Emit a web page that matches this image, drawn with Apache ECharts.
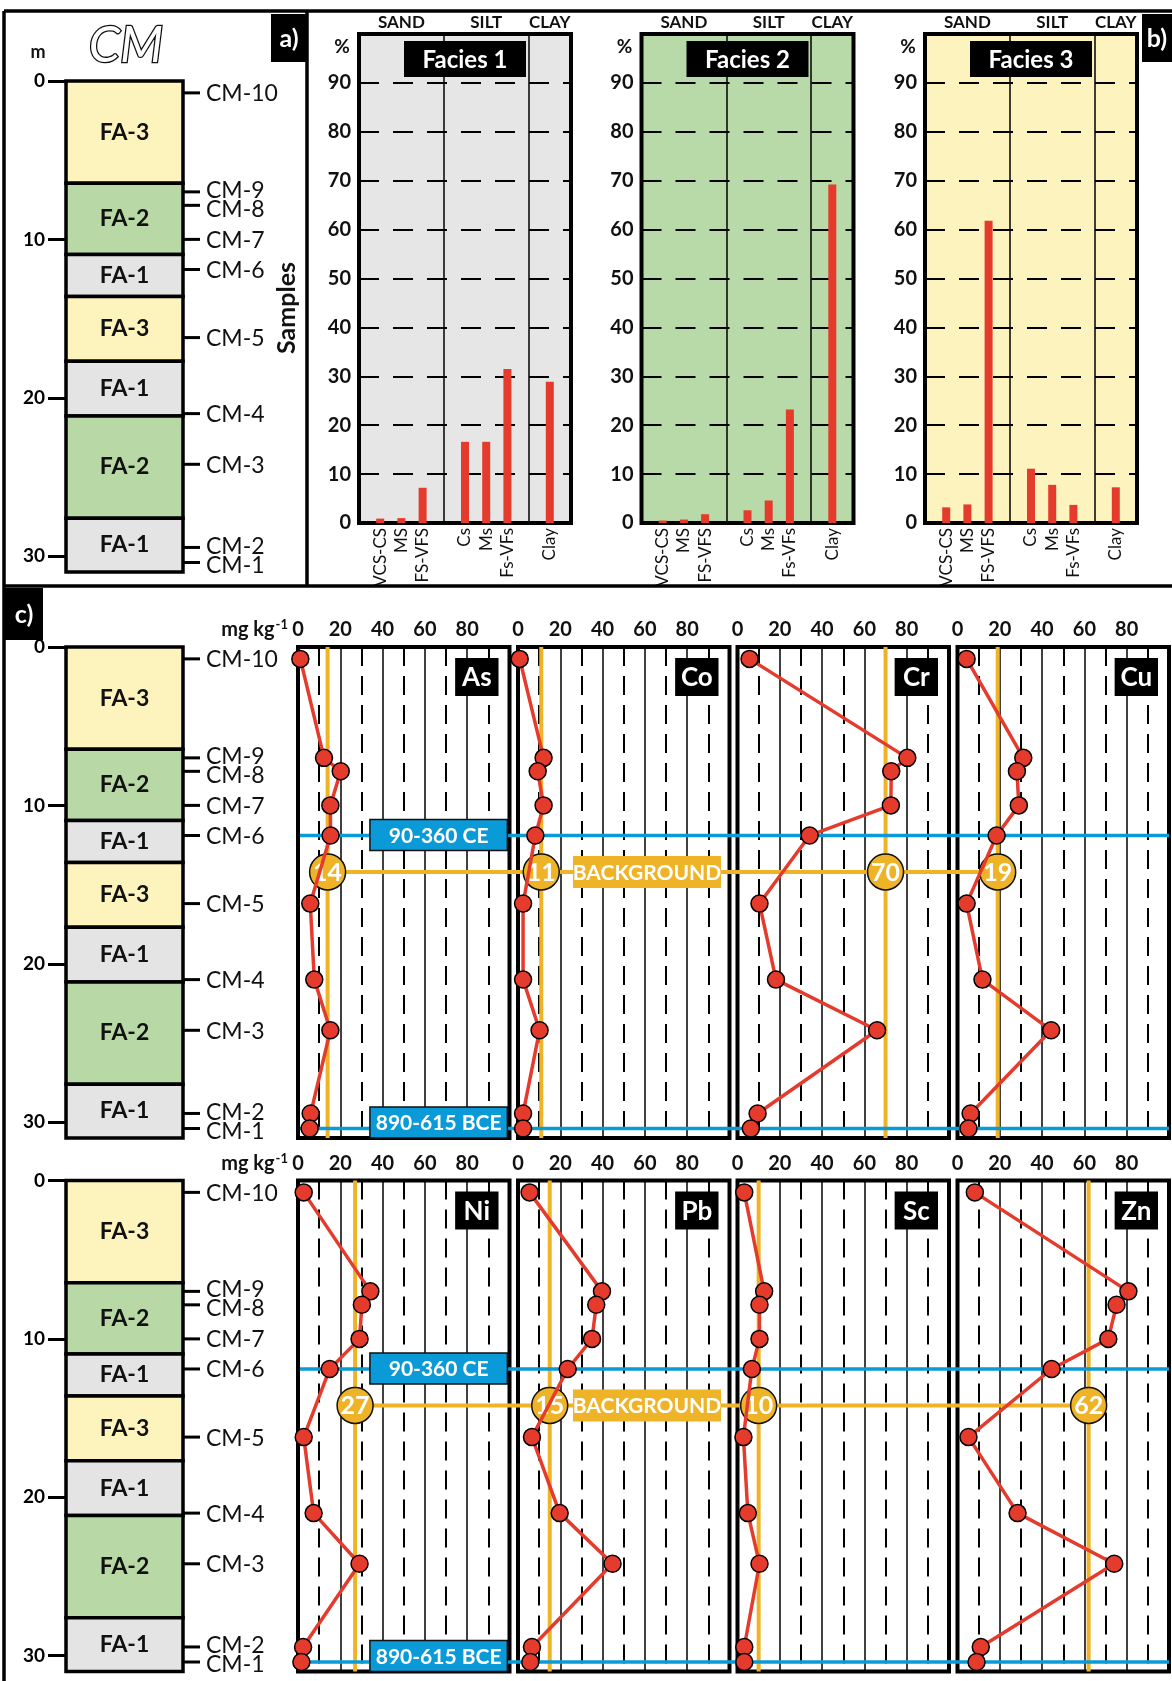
<!DOCTYPE html>
<html><head><meta charset="utf-8">
<script src="https://cdn.jsdelivr.net/npm/echarts@6/dist/echarts.min.js"></script>
<style>html,body{margin:0;padding:0;background:#fff}#c{width:1172px;height:1681px}</style>
</head><body><div id="c"></div>
<script>
// ---------------- DATA ----------------
// stratigraphic column (depth in m)
const layerTop    = [0, 6.45, 10.95, 13.6, 17.7, 21.15, 27.6];
const layerBottom = [6.45, 10.95, 13.6, 17.7, 21.15, 27.6, 31];
const layerFacies = ['FA-3','FA-2','FA-1','FA-3','FA-1','FA-2','FA-1'];
const sampleNames = ['CM-10','CM-9','CM-8','CM-7','CM-6','CM-5','CM-4','CM-3','CM-2','CM-1'];
const sampleDepth = [0.75, 7.0, 7.85, 10.0, 11.9, 16.2, 21.0, 24.2, 29.45, 30.4];
const depthTicks  = [0, 10, 20, 30];

// grain size (%)
const grainClasses = ['VCS-CS','MS','FS-VFS','Cs','Ms','Fs-VFs','Clay'];
const grainGroupOf = ['SAND','SAND','SAND','SILT','SILT','SILT','CLAY'];
const grainGroups  = ['SAND','SILT','CLAY'];
const faciesNames  = ['Facies 1','Facies 2','Facies 3'];
const facies1 = [0.9, 1.0, 7.2, 16.6, 16.6, 31.5, 28.9];
const facies2 = [0.5, 0.7, 1.8, 2.6, 4.6, 23.2, 69.2];
const facies3 = [3.2, 3.8, 61.8, 11.1, 7.8, 3.7, 7.3];

// geochemistry (mg kg-1), ordered as sampleNames
const elements = ['As','Co','Cr','Cu','Ni','Pb','Sc','Zn'];
const As = [1.1, 12.3, 20.2, 15.3, 15.4, 5.8, 7.7, 15.3, 6.0, 5.5];
const Co = [0.8, 12.1, 9.3, 12.1, 8.2, 2.4, 2.4, 10.2, 2.4, 2.4];
const Cr = [5.7, 80.3, 72.7, 72.5, 34.1, 10.4, 18.2, 66.0, 9.5, 6.3];
const Cu = [4.3, 31.1, 28.1, 29.0, 18.5, 4.3, 11.8, 44.3, 6.2, 5.2];
const Ni = [2.7, 34.2, 30.2, 29.1, 15.0, 2.7, 7.4, 29.1, 2.4, 1.6];
const Pb = [5.5, 39.7, 37.0, 35.0, 23.5, 6.6, 19.7, 44.7, 6.6, 5.8];
const Sc = [3.2, 12.6, 10.4, 10.4, 6.8, 2.8, 4.9, 10.4, 3.2, 3.2];
const Zn = [8.2, 80.8, 75.2, 71.3, 44.5, 5.2, 28.4, 74.1, 11.0, 9.0];
const background = [14, 11, 70, 19, 27, 15, 10, 62];
const bgDepth = 14.2;
const ageLabels  = ['90-360 CE', '890-615 BCE'];
const ageSamples = ['CM-6', 'CM-1'];
const concTicks = [0, 20, 40, 60, 80];

// ---------------- STYLE ----------------
const FONT = 'Lato, "Open Sans", sans-serif';
const RED = '#E53B2D', ORANGE = '#EFB328', BLUE = '#0B9AD8';
const faciesColor = {'FA-1':'#E4E4E4','FA-2':'#B8D8A6','FA-3':'#FDF3BD'};
const faciesBg = ['#E6E6E6','#B8D9A8','#FDF3BE'];
const elemData = {As, Co, Cr, Cu, Ni, Pb, Sc, Zn};

const option = {animation:false, backgroundColor:'#fff', textStyle:{fontFamily:FONT},
  grid:[], xAxis:[], yAxis:[], series:[]};

// slots on the grain-size axis: groups separated by an empty slot
const groupIdx = grainGroupOf.map(g => grainGroups.indexOf(g));
const slots = grainClasses.map((c,i) => i + 1 + groupIdx[i]);
const dividers = grainGroups.slice(1).map(g => slots[grainGroupOf.indexOf(g)] - 1);

// spread label positions so that neighbours keep a minimum gap
function spread(ys, gap) {
  const out = ys.slice();
  for (let it = 0; it < 20; it++) {
    for (let i = 1; i < out.length; i++) {
      const d = out[i] - out[i-1];
      if (d < gap) { const m = (gap - d) / 2; out[i-1] -= m; out[i] += m; }
    }
  }
  return out;
}

function addStrat(top) {
  const g = option.grid.length;
  option.grid.push({left:66, top, width:117, height:491});
  const xi = option.xAxis.length;
  option.xAxis.push({gridIndex:g, type:'value', min:0, max:1, show:false});
  const yi = option.yAxis.length;
  option.yAxis.push({gridIndex:g, type:'value', inverse:true, min:0, max:31, position:'left',
    axisLine:{show:false}, splitLine:{show:false},
    axisTick:{show:true, customValues:depthTicks, length:18, lineStyle:{color:'#000', width:3}},
    axisLabel:{customValues:depthTicks, margin:21, fontWeight:'bold', fontSize:19, color:'#000', fontFamily:FONT}});
  // facies layers
  option.series.push({type:'custom', xAxisIndex:xi, yAxisIndex:yi, z:3, silent:true, clip:false,
    data: layerTop.map((t,i)=>[t, layerBottom[i], i]),
    encode:{y:[0,1]},
    renderItem:(params, api) => {
      const t = api.value(0), b = api.value(1), i = api.value(2);
      const p0 = api.coord([0,t]), p1 = api.coord([1,b]);
      return {type:'group', children:[
        {type:'rect', shape:{x:p0[0], y:p0[1], width:p1[0]-p0[0], height:p1[1]-p0[1]},
         style:{fill:faciesColor[layerFacies[i]], stroke:'#000', lineWidth:3.5}},
        {type:'text', style:{text:layerFacies[i], x:(p0[0]+p1[0])/2, y:(p0[1]+p1[1])/2,
         align:'center', verticalAlign:'middle', fontFamily:FONT, fontWeight:'bold', fontSize:23, fill:'#111'}}
      ]};
    }});
  // sample ticks and names
  option.series.push({type:'custom', xAxisIndex:xi, yAxisIndex:yi, z:4, silent:true, clip:false,
    data: sampleDepth.map((d,i)=>[1, d, i]),
    encode:{x:0, y:1},
    renderItem:(params, api) => {
      const i = api.value(2);
      const p = api.coord([1, api.value(1)]);
      const ys = spread(sampleDepth.map(d => api.coord([1, d])[1]), 19);
      return {type:'group', children:[
        {type:'line', shape:{x1:p[0], y1:p[1], x2:p[0]+17, y2:p[1]}, style:{stroke:'#000', lineWidth:3}},
        {type:'text', style:{text:sampleNames[i], x:p[0]+23, y:ys[i]+1, align:'left', verticalAlign:'middle',
          fontFamily:FONT, fontSize:23, fill:'#111'}}
      ]};
    }});
  return g;
}

function addFacies(k, left) {
  const g = option.grid.length;
  option.grid.push({left, top:34, width:212, height:489, show:true, backgroundColor:faciesBg[k], borderColor:'#000', borderWidth:4});
  const xi = option.xAxis.length;
  option.xAxis.push({gridIndex:g, type:'value', min:0, max:10, axisLine:{show:false}, axisTick:{show:false}, splitLine:{show:false},
    axisLabel:{customValues:slots, rotate:90, margin:5, fontSize:17, color:'#111', fontFamily:FONT,
      formatter: v => grainClasses[slots.indexOf(v)]}});
  const yi = option.yAxis.length;
  option.yAxis.push({gridIndex:g, type:'value', min:0, max:100, interval:10, axisLine:{show:false}, axisTick:{show:false},
    axisLabel:{fontWeight:'bold', fontSize:20, color:'#111', margin:8, fontFamily:FONT, formatter: v => v===100 ? '' : v},
    splitLine:{show:true, lineStyle:{color:'#000', width:2, type:[20,14]}}});
  const vals = [facies1, facies2, facies3][k];
  option.series.push({type:'bar', xAxisIndex:xi, yAxisIndex:yi, barWidth:8, z:3, silent:true,
    data: slots.map((s,i)=>[s, vals[i]]), itemStyle:{color:RED},
    markLine:{silent:true, symbol:'none', label:{show:false}, lineStyle:{color:'#000', width:1.5, type:'solid'},
      emphasis:{disabled:true}, data: dividers.map(d=>({xAxis:d}))}});
  return g;
}

function addGeo(left, top, el, bg) {
  const g = option.grid.length;
  option.grid.push({left, top, width:211.5, height:491, show:true, backgroundColor:'#fff', borderColor:'#000', borderWidth:4});
  const xi = option.xAxis.length;
  option.xAxis.push({gridIndex:g, type:'value', position:'top', min:0, max:100, interval:20,
    axisLine:{show:false}, axisTick:{show:false},
    axisLabel:{customValues:concTicks, fontWeight:'bold', fontSize:20, color:'#111', margin:7, fontFamily:FONT},
    splitLine:{show:true, lineStyle:{color:'#000', width:1.5}},
    minorTick:{show:false, splitNumber:2},
    minorSplitLine:{show:true, lineStyle:{color:'#000', width:2, type:[19,10]}}});
  const yi = option.yAxis.length;
  option.yAxis.push({gridIndex:g, type:'value', inverse:true, min:0, max:31, show:false});
  option.series.push({type:'line', xAxisIndex:xi, yAxisIndex:yi, silent:true, z:3, symbol:'none',
    data:[[bg,0],[bg,31]], lineStyle:{color:ORANGE, width:4}});
  option.series.push({type:'line', xAxisIndex:xi, yAxisIndex:yi, silent:true, z:10, clip:false,
    data: sampleDepth.map((d,i)=>[elemData[el][i], d]),
    symbol:'circle', symbolSize:17, itemStyle:{color:RED, borderColor:'#000', borderWidth:1.5},
    lineStyle:{color:RED, width:3.5}});
  return g;
}

const stratTopGrid = addStrat(81);
const faciesGrids = [359, 641.5, 925].map((l,k)=>addFacies(k,l));
const plotLefts = [298, 518, 737.5, 957.5];
const rowTops = [647, 1180.5];
const rows = rowTops.map((top, r) => {
  addStrat(top);
  const grids = plotLefts.map((l,k)=>addGeo(l, top, elements[r*4+k], background[r*4+k]));
  return {top, grids, els: elements.slice(r*4, r*4+4), bgs: background.slice(r*4, r*4+4)};
});

const chart = echarts.init(document.getElementById('c'), null, {renderer:'canvas', width:1172, height:1681});
chart.setOption(option);

// ---------------- ANNOTATIONS ----------------
const px = (g, x, y) => chart.convertToPixel({gridIndex:g}, [x, y]);
const G = [];
const txt = (x, y, text, font, fill, extra) => Object.assign({type:'text', x, y, z:20,
  style:{text, font, fill: fill || '#111', align:'center', verticalAlign:'middle'}}, extra || {});
const box = (x, y, w, h, fill, text, font, stroke, z) => ({type:'group', z: z||6, children:[
  {type:'rect', z: z||6, shape:{x, y, width:w, height:h}, style:{fill, stroke: stroke || null, lineWidth: stroke ? 1.5 : 0}},
  {type:'text', z: (z||6)+1, x: x+w/2, y: y+h/2+1, style:{text, font, fill:'#fff', align:'center', verticalAlign:'middle'}}]});
const line = (x1,y1,x2,y2,stroke,w,z) => ({type:'line', z: z||4, shape:{x1,y1,x2,y2}, style:{stroke, lineWidth:w}});

// panel borders
G.push(line(4,11,1172,11,'#000',3.5,30));
G.push(line(4,11,4,1681,'#000',3.5,30));
G.push(line(307,11,307,586,'#000',3.5,30));
G.push(line(4,586,1172,586,'#000',3.5,30));
G.push(box(271,14,36,48,'#000','a)','bold 25px '+FONT,null,30));
G.push(box(1142,14,30,48,'#000','b)','bold 25px '+FONT,null,30));
G.push(box(5,588,38,52,'#000','c)','bold 25px '+FONT,null,30));
G.push({type:'text', x:126, y:46, z:20, style:{text:'CM', font:'italic 50px '+FONT, fill:'#fff', stroke:'#111', lineWidth:2.6, align:'center', verticalAlign:'middle'}});
G.push(txt(38,52,'m','bold 18px '+FONT));
G.push(txt(287,308,'Samples','bold 25px '+FONT,'#111',{rotation:Math.PI/2}));

// facies headers
faciesGrids.forEach((g,k) => {
  grainGroups.forEach((grp) => {
    const idx = grainGroupOf.map((v,i)=>v===grp?i:-1).filter(i=>i>=0);
    const c = (slots[idx[0]] - 1 + slots[idx[idx.length-1]] + 1) / 2;
    G.push(txt(px(g,c,0)[0], 23, grp, 'bold 17px '+FONT));
  });
  const l = px(g,0,100), r = px(g,10,100);
  G.push(box((l[0]+r[0])/2-61, 41, 122, 36, '#000', faciesNames[k], 'bold 24px '+FONT, null, 8));
  G.push(txt(l[0]-17, 47, '%', 'bold 19px '+FONT));
});

// geochem rows
rows.forEach(row => {
  const f = row.grids[0], last = row.grids[3];
  const xL = px(f,0,0)[0], xR = px(last,100,0)[0];
  G.push({type:'text', z:20, x:288, y:row.top-17, style:{text:'{a|mg kg}{s|-1}', align:'right', verticalAlign:'middle',
    rich:{a:{font:'bold 20px '+FONT, fill:'#111'}, s:{font:'bold 13px '+FONT, fill:'#111', padding:[0,0,10,1]}}}});
  ageSamples.forEach((s,j) => {
    const y = px(f,0,sampleDepth[sampleNames.indexOf(s)])[1];
    G.push(line(xL+2, y, xR, y, BLUE, 3.5, 4));
    const bx0 = px(f,34,0)[0], bx1 = px(f,99,0)[0];
    const yBot = px(f,0,31)[1];
    const by = j===0 ? y-16 : yBot-31;
    G.push(box(bx0, by, bx1-bx0, 31, BLUE, ageLabels[j], 'bold 21px '+FONT, '#111', 6));
  });
  const p1 = px(f, row.bgs[0], bgDepth), p2 = px(last, row.bgs[3], bgDepth);
  G.push(line(p1[0], p1[1], p2[0], p2[1], ORANGE, 4, 4));
  const b0 = px(row.grids[1],26,bgDepth), b1 = px(row.grids[1],96,bgDepth);
  G.push(box(b0[0], b0[1]-16, b1[0]-b0[0], 32, ORANGE, 'BACKGROUND', 'bold 21px '+FONT, null, 6));
  row.grids.forEach((g,k) => {
    const c = px(g, row.bgs[k], bgDepth);
    G.push({type:'circle', z:7, shape:{cx:c[0], cy:c[1], r:18}, style:{fill:ORANGE, stroke:'#111', lineWidth:1.5}});
    G.push(txt(c[0], c[1]+1, String(row.bgs[k]), 'bold 25px '+FONT, '#fff', {z:8}));
    const e0 = px(g,74.3,0)[0], e1 = px(g,94.8,0)[0];
    G.push(box(e0, row.top+11, e1-e0, 38, '#000', row.els[k], 'bold 26px '+FONT, null, 8));
  });
});

chart.setOption({graphic:{elements:G}});
</script></body></html>
